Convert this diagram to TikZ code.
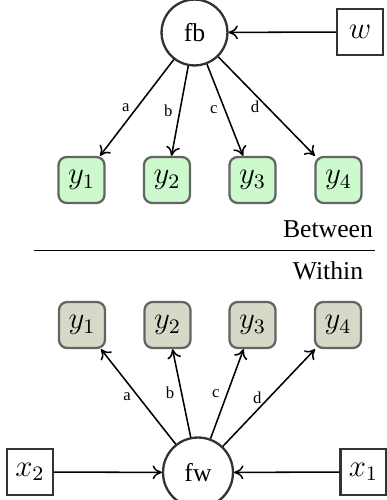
\documentclass[tikz,border=0pt]{standalone}
\usepackage{fontspec}
\setmainfont{Liberation Serif}
\usetikzlibrary{arrows.meta}
\definecolor{betweenfill}{RGB}{204,250,204}
\definecolor{withinfill}{RGB}{216,216,200}
\definecolor{boxedge}{RGB}{100,100,100}
\begin{document}
\begin{tikzpicture}[x=0.3891pt,y=-0.3891pt,
  factor/.style={circle,draw=black!80,line width=0.9pt,inner sep=5.2pt,font=\fontsize{10}{12}\selectfont},
  observed/.style={rectangle,draw=black!80,line width=0.9pt,minimum size=17.9pt,inner sep=0pt,font=\large},
  indicator/.style={rectangle,rounded corners=3.2pt,draw=boxedge,line width=0.9pt,minimum size=17.9pt,inner sep=0pt,font=\large},
  btw/.style={indicator,fill=betweenfill},
  wth/.style={indicator,fill=withinfill},
  load/.style={-{To[length=3.6pt,width=5.4pt]},line width=0.6pt},
  lbl/.style={font=\fontsize{6.5}{7}\selectfont,inner sep=2.6pt,left}]
\useasboundingbox (0,0) rectangle (386,500);

% between level
\node[factor] (fb) at (194.5,32.5) {fb};
\node[observed] (w) at (360,32) {$w$};
\node[btw] (by1) at (81.5,180) {$y_1$};
\node[btw] (by2) at (167,180) {$y_2$};
\node[btw] (by3) at (252.5,180) {$y_3$};
\node[btw] (by4) at (338.5,180) {$y_4$};
\draw[load] (w) -- (fb);
\draw[load] (fb) -- node[lbl] {a} (by1);
\draw[load] (fb) -- node[lbl] {b} (by2);
\draw[load] (fb) -- node[lbl] {c} (by3);
\draw[load] (fb) -- node[lbl] {d} (by4);

% separator between levels
\coordinate (sepL) at (34,250.7);
\coordinate (sepR) at (375,250.7);
\draw[line width=0.6pt] (sepL) -- (sepR);
\node[anchor=base,inner sep=0pt,font=\fontsize{10}{12}\selectfont] (between) at (328,238) {Between};
\node[anchor=base,inner sep=0pt,font=\fontsize{10}{12}\selectfont] (within) at (328,280) {Within};

% within level
\node[wth] (wy1) at (82,325) {$y_1$};
\node[wth] (wy2) at (167.5,325) {$y_2$};
\node[wth] (wy3) at (252.5,325) {$y_3$};
\node[wth] (wy4) at (338,325) {$y_4$};
\node[factor] (fw) at (198,472.5) {fw};
\node[observed] (x2) at (30,472) {$x_2$};
\node[observed] (x1) at (363.5,472) {$x_1$};
\draw[load] (x2) -- (fw);
\draw[load] (x1) -- (fw);
\draw[load] (fw) -- node[lbl] {a} (wy1);
\draw[load] (fw) -- node[lbl] {b} (wy2);
\draw[load] (fw) -- node[lbl] {c} (wy3);
\draw[load] (fw) -- node[lbl] {d} (wy4);
\end{tikzpicture}
\end{document}
